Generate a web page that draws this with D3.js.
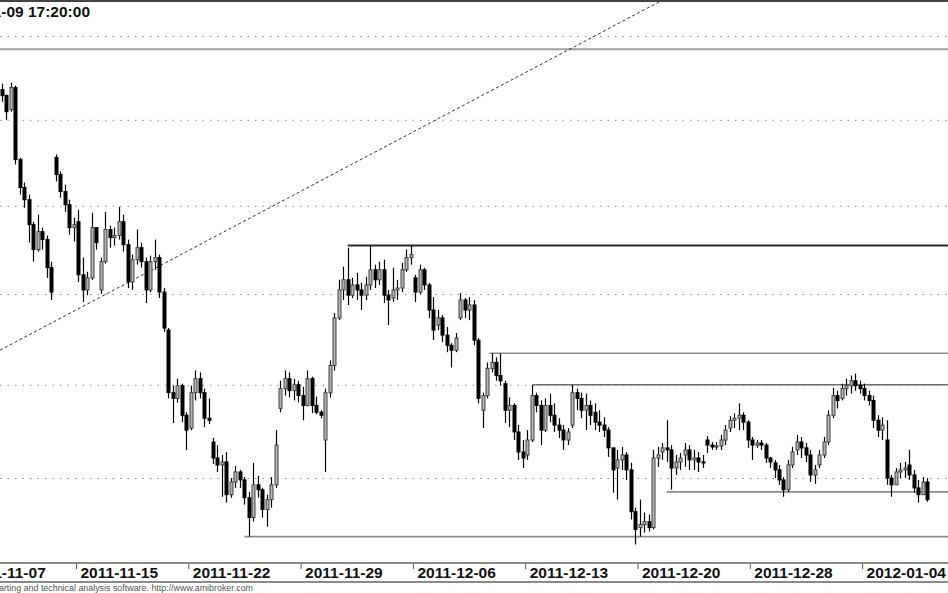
<!DOCTYPE html>
<html><head><meta charset="utf-8">
<script src="https://cdn.jsdelivr.net/npm/d3@7"></script>
<style>html,body{margin:0;padding:0;background:#fff;overflow:hidden}svg{display:block}</style>
</head><body><svg id="c" width="948" height="593"></svg>
<script>
// ---- data (hourly-ish bars, 5 per trading day; prices) ----
const barsPerDay = 5;
const firstBar = 8; // first visible bar index (day 1, slot 3)
const sessionOpens = [1967.9,1956.0,1889.2,1927.9,1890.9,1852.3,1890.9,1868.2,1830.0,1776.6,1769.1,1747.9,1746.4,1787.2,1794.1,1770.2,1858.0,1855.1,1847.8,1859.1,1832.8,1836.7,1786.2,1800.6,1762.2,1788.8,1778.2,1785.1,1755.3,1724.0,1763.8,1762.2,1770.2,1776.6,1770.2,1758.0,1764.9,1756.9,1792.6,1797.9,1770.2,1756.9];
const highs = [1971.4,1964.9,
1972.0,1970.2,1927.9,1913.4,1906.4,
1890.9,1894.9,1887.5,1883.0,1868.2,
1929.7,1919.8,1912.2,1903.5,1893.2,
1897.7,1870.5,1862.5,1896.0,1886.4,
1870.5,1896.6,1888.6,1887.5,1899.4,
1894.9,1880.7,1872.2,1886.4,1879.0,
1870.5,1871.6,1880.7,1872.2,1853.4,
1831.1,1799.5,1803.3,1800.6,1785.1,
1799.5,1807.8,1806.7,1797.9,1792.6,
1771.3,1767.5,1762.2,1763.8,1750.0,
1756.4,1754.3,1750.5,1742.7,1758.0,
1751.1,1744.8,1741.2,1750.5,1775.5,
1802.2,1807.8,1806.7,1803.3,1802.2,
1798.9,1807.8,1804.4,1793.6,1786.2,
1797.9,1813.3,1839.4,1858.0,1865.4,
1876.1,1859.1,1861.9,1856.3,1859.7,
1877.3,1866.5,1868.2,1869.3,1852.3,
1864.8,1858.0,1867.6,1875.0,1877.3,
1860.8,1866.5,1864.8,1856.3,1848.3,
1841.1,1838.3,1831.7,1822.8,1828.3,
1850.6,1847.8,1848.3,1846.7,1825.5,
1795.7,1812.2,1817.2,1815.0,1817.2,
1802.2,1793.1,1789.9,1778.2,1770.2,
1775.5,1800.0,1795.7,1791.5,1792.6,
1795.2,1789.9,1781.9,1778.2,1776.6,
1800.0,1797.9,1795.7,1795.2,1791.5,
1789.9,1786.2,1782.4,1777.1,1764.9,
1764.9,1766.5,1763.8,1758.0,1734.4,
1738.6,1731.8,1730.8,1764.9,1766.5,
1768.6,1780.8,1767.5,1762.2,1763.3,
1768.6,1767.5,1764.9,1763.8,1762.2,
1772.3,1769.1,1769.1,1772.9,1778.2,
1783.0,1784.6,1789.9,1785.1,1780.8,
1771.8,1770.2,1770.2,1768.6,1761.2,
1759.6,1756.9,1750.5,1759.6,1766.5,
1772.9,1771.8,1768.6,1764.9,1756.9,
1764.9,1771.8,1786.2,1798.4,1796.8,
1800.6,1803.3,1805.0,1806.1,1802.2,
1800.6,1796.8,1794.1,1783.5,1782.4,
1780.8,1751.6,1755.3,1758.0,1758.5,
1764.9,1754.3,1749.0,1750.5,1750.0];
const lows = [1960.7,1950.0,
1954.8,1923.9,1906.4,1898.9,1879.0,
1868.2,1873.9,1875.0,1859.1,1846.7,
1914.0,1904.7,1896.6,1883.5,1879.6,
1856.8,1845.6,1849.4,1858.0,1875.0,
1850.0,1867.1,1876.1,1877.3,1880.7,
1873.9,1853.4,1852.3,1866.5,1864.8,
1845.0,1851.1,1863.6,1847.8,1828.9,
1792.6,1779.3,1790.4,1779.8,1764.9,
1775.5,1791.5,1792.6,1777.1,1778.7,
1757.4,1753.2,1740.1,1737.0,1739.6,
1744.8,1744.8,1736.0,1719.3,1727.1,
1739.6,1729.2,1724.5,1734.4,1744.8,
1785.1,1794.1,1793.1,1791.5,1790.4,
1780.8,1788.3,1784.6,1784.0,1781.9,
1753.2,1793.1,1807.8,1835.5,1846.7,
1843.9,1847.8,1846.7,1841.1,1846.7,
1852.3,1853.4,1855.1,1845.0,1832.8,
1845.6,1846.7,1851.1,1862.5,1866.5,
1845.6,1850.0,1852.3,1836.7,1824.4,
1830.0,1823.3,1817.8,1809.4,1817.8,
1835.5,1836.7,1835.5,1821.6,1789.9,
1776.6,1792.6,1806.7,1802.2,1799.5,
1779.3,1777.1,1770.2,1759.6,1755.3,
1759.6,1769.1,1785.1,1767.5,1774.5,
1779.8,1774.5,1771.3,1764.9,1767.5,
1776.6,1786.2,1781.9,1775.5,1778.2,
1775.5,1774.5,1771.8,1761.2,1742.2,
1738.6,1754.3,1749.0,1728.2,1715.2,
1719.3,1721.4,1721.9,1723.0,1755.9,
1759.6,1758.5,1743.8,1751.6,1754.3,
1755.9,1754.3,1754.3,1753.2,1755.3,
1763.3,1764.9,1764.9,1764.9,1767.5,
1774.5,1776.6,1775.5,1775.5,1766.0,
1759.6,1766.0,1764.9,1758.0,1755.3,
1750.0,1746.4,1740.1,1742.7,1755.3,
1762.2,1760.6,1758.5,1747.9,1746.9,
1755.3,1760.6,1767.5,1781.9,1787.2,
1791.5,1794.1,1795.2,1796.8,1795.2,
1791.5,1788.8,1776.6,1771.8,1770.2,
1746.4,1740.1,1746.4,1750.0,1750.0,
1749.0,1742.2,1737.0,1741.2,1737.5];
const closes = [1964.3,1954.8,
1969.1,1926.8,1910.5,1903.5,1889.2,
1875.0,1885.2,1880.7,1864.8,1851.1,
1918.0,1908.2,1900.6,1887.5,1889.2,
1860.8,1852.3,1859.1,1887.5,1879.0,
1868.2,1886.4,1881.8,1883.0,1890.9,
1877.8,1856.8,1869.3,1876.1,1868.2,
1852.3,1868.2,1870.5,1851.1,1831.1,
1795.7,1792.6,1799.5,1783.5,1775.5,
1795.7,1803.3,1795.7,1781.9,1780.8,
1760.6,1756.9,1758.5,1741.2,1747.9,
1753.2,1749.0,1739.6,1729.2,1746.4,
1743.8,1733.4,1738.6,1746.4,1767.5,
1797.9,1803.3,1796.8,1800.0,1794.1,
1788.8,1803.3,1788.8,1785.1,1783.5,
1795.7,1810.5,1836.7,1852.3,1858.0,
1849.4,1855.1,1852.3,1849.4,1855.1,
1863.6,1858.0,1863.6,1849.4,1846.7,
1852.3,1853.4,1863.6,1870.5,1872.2,
1851.1,1863.6,1855.1,1841.1,1830.0,
1836.7,1827.2,1821.6,1818.9,1825.5,
1846.7,1841.1,1843.9,1824.4,1792.6,
1794.1,1808.9,1812.2,1805.0,1802.2,
1786.2,1788.8,1774.5,1763.8,1760.6,
1770.2,1794.1,1788.8,1775.5,1788.8,
1783.5,1778.2,1775.5,1770.2,1774.5,
1795.7,1792.6,1786.2,1788.8,1783.5,
1779.8,1778.2,1775.5,1766.0,1754.3,
1759.6,1762.2,1754.3,1732.3,1723.0,
1725.6,1727.1,1724.0,1760.6,1762.2,
1766.0,1764.9,1755.3,1758.5,1760.6,
1764.9,1759.6,1760.6,1758.5,1758.0,
1767.5,1766.5,1767.0,1770.2,1775.5,
1780.8,1781.9,1783.5,1779.8,1770.2,
1767.5,1768.6,1767.5,1760.6,1758.5,
1754.3,1749.0,1743.8,1756.9,1763.8,
1769.1,1766.0,1762.2,1751.6,1754.3,
1762.2,1769.1,1783.5,1794.1,1791.5,
1797.9,1799.5,1802.2,1799.5,1797.9,
1794.1,1791.5,1780.8,1775.5,1778.2,
1750.0,1746.4,1753.2,1754.3,1755.3,
1751.6,1744.8,1741.2,1747.9,1738.6];
const tickDays = [0,5,10,15,20,25,30,35,40];
const tickLabels = ["2011-11-07","2011-11-15","2011-11-22","2011-11-29","2011-12-06","2011-12-13","2011-12-20","2011-12-28","2012-01-04"];
const gridPrices = [2000,1950,1900,1850,1800,1750];
const levelPrices = [1992.0,1877.3,1817.2,1800.0,1742.7,1719.3];
const levelStartDays = [0,17.1,23.4,25.35,31.3,12.5];
const trendDays = [1.616,31.13];
const trendPrices = [1818.9,2021.9];
const titleText = "2012-01-09 17:20:00";
const footerText = "AmiBroker - advanced charting and technical analysis software. http://www.amibroker.com";

// ---- drawing ----
const W = 948, H = 593;
const FONT = "'Liberation Sans', Arial, Helvetica, sans-serif";
const svg = d3.select('#c');
const x = d3.scaleLinear().domain([0, 40]).range([-36.3, 862.1]);
const y = d3.scaleLog().domain([1750, 2000]).range([478, 36]);
const plotTop = 2, plotBottom = 562, axisTop = 563, axisBottom = 582;

svg.append('rect').attr('width', W).attr('height', H).attr('fill', '#fff');
svg.append('defs').append('clipPath').attr('id', 'clip')
  .append('rect').attr('x', 0).attr('y', plotTop).attr('width', W).attr('height', plotBottom - plotTop);
const plot = svg.append('g').attr('clip-path', 'url(#clip)');

// dotted horizontal grid via axis
const gridG = plot.append('g').call(d3.axisLeft(y).tickValues(gridPrices).tickSize(-W).tickFormat(''));
gridG.select('.domain').remove();
gridG.selectAll('.tick line').attr('stroke', '#8a8a8a').attr('stroke-width', 1).attr('stroke-dasharray', '1.5,6');

// horizontal study lines
const levelColors = ['#a0a0a0', '#2a2a2a', '#8c8c8c', '#6e6e6e', '#8c8c8c', '#8c8c8c'];
const levelWidths = [2, 2, 1.6, 1.6, 1.6, 1.6];
plot.selectAll('line.level').data(levelPrices).join('line')
  .attr('class', 'level')
  .attr('x1', (d, i) => x(levelStartDays[i])).attr('x2', x(45))
  .attr('y1', d => y(d)).attr('y2', d => y(d))
  .attr('stroke', (d, i) => levelColors[i]).attr('stroke-width', (d, i) => levelWidths[i]);

// dashed trend line
plot.append('line')
  .attr('x1', x(trendDays[0])).attr('y1', y(trendPrices[0]))
  .attr('x2', x(trendDays[1])).attr('y2', y(trendPrices[1]))
  .attr('stroke', '#333').attr('stroke-width', 1).attr('stroke-dasharray', '3,2.5');

// bars
const bars = closes.map((c, i) => {
  const g = firstBar + i;
  const day = Math.floor(g / barsPerDay);
  const open = (i === 0) ? sessionOpens[0] : (g % barsPerDay === 0 ? sessionOpens[day - 1] : closes[i - 1]);
  return { t: (g + 0.5) / barsPerDay, o: open, h: highs[i], l: lows[i], c };
});
const bw = 3;
const cg = plot.append('g');
cg.selectAll('line.wick').data(bars).join('line')
  .attr('x1', d => Math.round(x(d.t)) + 0.5).attr('x2', d => Math.round(x(d.t)) + 0.5)
  .attr('y1', d => y(Math.max(d.h, d.o, d.c))).attr('y2', d => y(Math.min(d.l, d.o, d.c)))
  .attr('stroke', '#000').attr('stroke-width', 1.2);
cg.selectAll('rect.body').data(bars).join('rect')
  .attr('x', d => Math.round(x(d.t)) + 0.5 - bw / 2)
  .attr('y', d => y(Math.max(d.o, d.c)))
  .attr('width', bw)
  .attr('height', d => Math.max(1, y(Math.min(d.o, d.c)) - y(Math.max(d.o, d.c))))
  .attr('fill', d => d.c >= d.o ? '#b4b4b4' : '#000')
  .attr('stroke', d => d.c >= d.o ? '#444' : '#000').attr('stroke-width', 1);

// top border
svg.append('line').attr('x1', 0).attr('x2', W).attr('y1', 1).attr('y2', 1).attr('stroke', '#444').attr('stroke-width', 2);

// title (clipped at the left edge like the source)
svg.append('text').attr('x', 90).attr('y', 17).attr('text-anchor', 'end')
  .attr('font-family', FONT).attr('font-weight', 'bold').attr('font-size', 15.5).attr('fill', '#111')
  .text(titleText);

// x axis
const xa = svg.append('g').attr('transform', `translate(0,${axisTop})`)
  .call(d3.axisBottom(x).tickValues(tickDays).tickFormat((d, i) => tickLabels[i]).tickSize(6));
xa.select('.domain').remove();
xa.selectAll('.tick line').attr('stroke', '#555');
xa.selectAll('.tick text').attr('text-anchor', 'start').attr('x', 4).attr('y', 15).attr('dy', 0)
  .attr('font-family', FONT).attr('font-weight', 'bold').attr('font-size', 15.5).attr('fill', '#111');
svg.append('line').attr('x1', 0).attr('x2', W).attr('y1', axisTop).attr('y2', axisTop).attr('stroke', '#8a8a8a').attr('stroke-width', 2);
svg.append('line').attr('x1', 0).attr('x2', W).attr('y1', axisBottom).attr('y2', axisBottom).attr('stroke', '#8a8a8a').attr('stroke-width', 2);

// footer
svg.append('text').attr('x', 253).attr('y', 591).attr('text-anchor', 'end')
  .attr('font-family', FONT).attr('font-size', 8.9).attr('fill', '#555')
  .text(footerText);
</script>
</body></html>
